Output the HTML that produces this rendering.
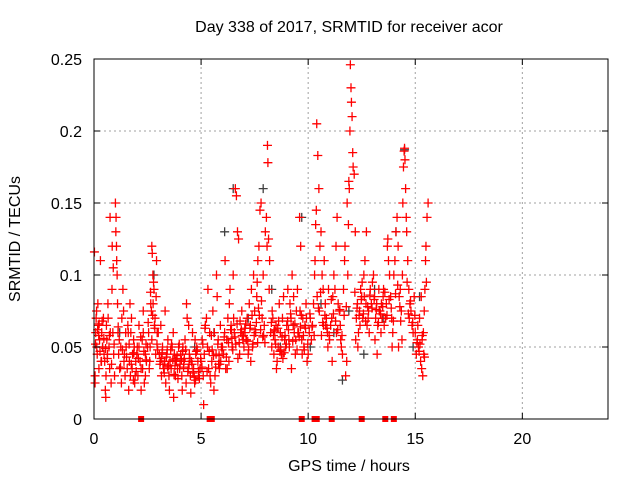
<!DOCTYPE html>
<html><head><meta charset="utf-8">
<style>
body{margin:0;background:#fff;}
svg{display:block;font-family:"Liberation Sans",sans-serif;}
</style></head>
<body>
<svg id="chart" width="640" height="480">
<rect width="640" height="480" fill="#fff"/>
<g id="grid"></g>
<g id="marks"></g>
<g id="axes"></g>
<text x="349" y="32" text-anchor="middle" font-size="16">Day 338 of 2017, SRMTID for receiver acor</text>
<text x="349" y="471" text-anchor="middle" font-size="16">GPS time / hours</text>
<text transform="translate(20,239) rotate(-90)" text-anchor="middle" font-size="16">SRMTID / TECUs</text>
</svg>
<script>
const xTicks=[0,5,10,15,20];
const yTicks=[0,0.05,0.1,0.15,0.2,0.25];
const yTickLabels=["0","0.05","0.1","0.15","0.2","0.25"];
const squareTimes=[2.2,5.4,5.5,9.7,10.3,10.4,11.1,12.5,13.6,14.0];
const redTimes=[
0.02,0.05,0.08,0.1,0.13,0.15,0.18,0.2,0.23,0.26,0.3,0.33,0.36,0.4,0.44,0.47,0.05,0.12,0.22,0.35,
0.5,0.53,0.56,0.6,0.63,0.66,0.7,0.73,0.76,0.8,0.84,0.88,0.92,0.96,0.55,0.65,0.75,0.85,0.9,0.58,
1.0,1.02,1.05,1.08,1.1,1.12,1.15,1.2,1.25,1.3,1.35,1.4,1.45,1.48,1.03,1.18,1.28,1.38,1.42,1.06,
1.5,1.55,1.6,1.65,1.7,1.75,1.8,1.85,1.9,1.95,1.58,1.68,1.78,1.88,1.62,1.72,1.82,1.92,
2.0,2.05,2.1,2.15,2.2,2.25,2.3,2.35,2.4,2.45,2.1,2.2,2.3,2.4,2.02,2.27,
2.5,2.55,2.6,2.65,2.7,2.72,2.75,2.8,2.85,2.9,2.95,2.62,2.68,2.78,2.82,2.88,2.92,2.58,2.7,2.76,
3.0,3.05,3.1,3.15,3.2,3.25,3.3,3.35,3.4,3.45,3.5,3.55,3.6,3.65,3.7,3.75,3.8,3.85,3.9,3.95,3.12,3.32,3.52,3.72,3.92,3.22,3.42,3.62,3.82,
4.0,4.05,4.1,4.15,4.2,4.25,4.3,4.35,4.4,4.45,4.5,4.55,4.6,4.65,4.7,4.75,4.8,4.85,4.9,4.95,4.12,4.32,4.52,4.72,4.92,4.22,4.42,4.62,4.82,4.02,
5.0,5.05,5.1,5.15,5.2,5.25,5.3,5.35,5.4,5.45,5.5,5.55,5.6,5.65,5.7,5.75,5.8,5.85,5.9,5.95,5.12,5.32,5.52,5.72,5.92,5.42,5.62,5.82,
6.0,6.05,6.1,6.15,6.2,6.25,6.3,6.35,6.4,6.45,6.5,6.55,6.6,6.65,6.7,6.75,6.8,6.85,6.9,6.95,6.12,6.32,6.52,6.72,6.92,6.22,6.42,6.62,6.82,
7.0,7.05,7.1,7.15,7.2,7.25,7.3,7.35,7.4,7.45,7.5,7.55,7.6,7.65,7.7,7.75,7.8,7.85,7.9,7.95,7.12,7.32,7.52,7.72,7.92,7.22,7.42,7.62,7.82,
8.0,8.05,8.1,8.12,8.15,8.2,8.25,8.3,8.35,8.4,8.45,8.5,8.55,8.6,8.65,8.7,8.75,8.8,8.85,8.9,8.95,8.08,8.18,8.32,8.52,8.72,8.92,8.42,8.62,8.82,
9.0,9.05,9.1,9.15,9.2,9.25,9.3,9.35,9.4,9.45,9.5,9.55,9.6,9.65,9.7,9.75,9.8,9.85,9.9,9.95,9.12,9.32,9.52,9.72,9.92,9.22,9.42,9.62,9.82,
10.0,10.05,10.1,10.15,10.2,10.25,10.3,10.35,10.4,10.45,10.5,10.55,10.6,10.65,10.7,10.75,10.8,10.85,10.9,10.95,10.32,10.38,10.42,10.52,10.72,10.92,10.62,10.82,
11.0,11.05,11.1,11.15,11.2,11.25,11.3,11.35,11.4,11.45,11.5,11.55,11.6,11.65,11.7,11.75,11.8,11.85,11.88,11.9,11.92,11.95,11.97,12.0,12.02,12.05,12.08,11.12,11.32,11.52,11.72,11.82,
12.1,12.15,12.2,12.25,12.3,12.35,12.4,12.45,12.5,12.55,12.6,12.65,12.7,12.75,12.8,12.85,12.9,12.95,12.22,12.42,12.62,12.82,12.32,12.52,12.72,
13.0,13.05,13.1,13.15,13.2,13.25,13.3,13.35,13.4,13.45,13.5,13.55,13.6,13.65,13.7,13.75,13.8,13.85,13.9,13.95,13.12,13.32,13.52,13.72,13.92,13.22,13.42,13.62,
14.0,14.05,14.1,14.15,14.2,14.25,14.3,14.35,14.4,14.42,14.45,14.48,14.5,14.52,14.55,14.6,14.65,14.7,14.75,14.8,14.85,14.9,14.95,14.32,14.38,14.62,14.72,14.22,14.58,
15.0,15.05,15.1,15.15,15.2,15.25,15.3,15.35,15.4,15.45,15.5,15.55,15.6,15.12,15.22,15.32,15.42,15.52,15.28,15.38,15.48];
const redValues=[
0.116,0.03,0.06,0.07,0.05,0.045,0.08,0.065,0.035,0.055,0.11,0.04,0.06,0.05,0.07,0.045,0.025,0.075,0.058,0.04,
0.04,0.02,0.03,0.055,0.045,0.07,0.05,0.035,0.06,0.025,0.09,0.06,0.045,0.03,0.015,0.08,0.14,0.12,0.105,0.065,
0.15,0.13,0.12,0.1,0.08,0.06,0.045,0.035,0.05,0.07,0.09,0.04,0.03,0.06,0.14,0.055,0.025,0.075,0.045,0.11,
0.05,0.035,0.06,0.04,0.03,0.07,0.045,0.055,0.025,0.04,0.065,0.08,0.035,0.05,0.02,0.06,0.045,0.03,
0.045,0.03,0.05,0.04,0.035,0.055,0.06,0.025,0.045,0.04,0.065,0.02,0.075,0.03,0.05,0.035,
0.05,0.06,0.04,0.08,0.12,0.115,0.1,0.09,0.07,0.085,0.06,0.05,0.075,0.095,0.065,0.045,0.11,0.035,0.055,0.08,
0.06,0.045,0.04,0.03,0.05,0.035,0.04,0.025,0.045,0.055,0.03,0.04,0.035,0.05,0.06,0.045,0.03,0.04,0.035,0.05,0.065,0.075,0.02,0.015,0.028,0.038,0.048,0.052,0.042,
0.035,0.045,0.03,0.05,0.04,0.055,0.025,0.07,0.035,0.045,0.03,0.04,0.06,0.035,0.025,0.045,0.05,0.04,0.03,0.035,0.02,0.08,0.018,0.055,0.028,0.042,0.065,0.032,0.048,0.038,
0.04,0.055,0.03,0.045,0.065,0.07,0.05,0.035,0.06,0.025,0.04,0.075,0.02,0.03,0.045,0.085,0.055,0.035,0.065,0.05,0.01,0.09,0.048,0.1,0.04,0.03,0.06,0.038,
0.05,0.045,0.06,0.035,0.055,0.07,0.04,0.09,0.065,0.05,0.1,0.06,0.16,0.155,0.13,0.125,0.045,0.06,0.075,0.055,0.11,0.08,0.07,0.042,0.058,0.035,0.062,0.052,0.068,
0.05,0.06,0.055,0.07,0.045,0.08,0.065,0.09,0.05,0.1,0.075,0.06,0.085,0.11,0.12,0.145,0.15,0.07,0.1,0.065,0.055,0.04,0.062,0.072,0.058,0.048,0.052,0.095,0.082,
0.13,0.14,0.19,0.178,0.125,0.11,0.06,0.05,0.07,0.045,0.055,0.065,0.04,0.05,0.08,0.06,0.045,0.07,0.085,0.055,0.05,0.12,0.09,0.075,0.035,0.048,0.058,0.062,0.068,0.042,
0.065,0.09,0.055,0.08,0.07,0.1,0.065,0.06,0.045,0.075,0.09,0.06,0.14,0.12,0.055,0.07,0.05,0.065,0.08,0.04,0.05,0.085,0.06,0.045,0.07,0.035,0.055,0.075,0.048,
0.045,0.06,0.07,0.055,0.065,0.08,0.1,0.135,0.205,0.183,0.16,0.12,0.13,0.1,0.09,0.11,0.08,0.07,0.06,0.09,0.11,0.145,0.085,0.075,0.065,0.05,0.058,0.065,
0.055,0.065,0.07,0.085,0.1,0.09,0.12,0.14,0.08,0.075,0.065,0.05,0.045,0.09,0.11,0.03,0.04,0.1,0.135,0.165,0.16,0.2,0.246,0.23,0.22,0.21,0.185,0.04,0.06,0.055,0.12,0.15,
0.175,0.17,0.13,0.07,0.08,0.06,0.075,0.09,0.085,0.07,0.1,0.11,0.08,0.065,0.07,0.06,0.09,0.08,0.055,0.065,0.085,0.075,0.05,0.095,0.13,
0.095,0.1,0.085,0.07,0.08,0.065,0.09,0.075,0.06,0.07,0.085,0.065,0.07,0.08,0.12,0.11,0.1,0.085,0.07,0.06,0.055,0.075,0.09,0.125,0.05,0.045,0.08,0.07,
0.1,0.11,0.13,0.14,0.12,0.085,0.09,0.075,0.1,0.15,0.175,0.186,0.188,0.18,0.16,0.13,0.11,0.09,0.08,0.075,0.065,0.06,0.085,0.068,0.055,0.095,0.07,0.05,0.14,
0.06,0.045,0.055,0.05,0.07,0.04,0.035,0.03,0.045,0.09,0.12,0.14,0.15,0.065,0.052,0.055,0.075,0.095,0.085,0.06,0.11];
const redTimes2=[
0.07,0.17,0.28,0.38,0.46,0.62,0.72,0.82,0.94,1.13,1.33,1.52,1.64,1.74,1.86,1.97,2.07,2.18,2.33,2.43,
2.53,2.64,2.74,2.84,2.97,3.08,3.18,3.28,3.38,3.48,3.58,3.68,3.78,3.88,3.98,4.08,4.18,4.28,4.38,4.48,
4.58,4.68,4.78,4.88,4.98,5.08,5.18,5.28,5.38,5.48,5.58,5.68,5.78,5.88,5.98,6.08,6.18,6.28,6.38,6.48,
6.58,6.68,6.78,6.88,6.98,7.08,7.18,7.28,7.38,7.48,7.58,7.68,7.78,7.88,7.98,8.28,8.38,8.48,8.58,8.68,
8.78,8.88,8.98,9.08,9.18,9.28,9.38,9.48,9.58,9.68,9.78,9.88,9.98,10.08,10.18,10.28,10.48,10.58,10.68,10.78,
10.88,10.98,11.08,11.18,11.28,11.38,11.48,11.58,11.68,11.78,12.18,12.28,12.38,12.48,12.58,12.68,12.78,12.88,12.98,13.08,
13.18,13.28,13.38,13.48,13.58,13.68,13.78,13.88,13.98,14.08,14.18,14.28,14.68,14.78,14.88,14.98,15.08,15.18,15.33,15.43,
3.14,3.44,3.74,4.14,4.44,4.74,5.04,5.84,6.44,7.04,7.64,8.44,9.04,9.64,0.24,0.54,1.24,1.84,2.44,2.94];
const redValues2=[
0.052,0.062,0.047,0.068,0.056,0.042,0.058,0.038,0.052,0.064,0.048,0.043,0.052,0.038,0.046,0.033,0.042,0.057,0.047,0.052,
0.067,0.088,0.072,0.063,0.048,0.038,0.046,0.032,0.043,0.037,0.048,0.041,0.037,0.044,0.052,0.041,0.036,0.048,0.033,0.042,
0.038,0.029,0.047,0.033,0.042,0.052,0.063,0.033,0.047,0.058,0.044,0.036,0.052,0.038,0.048,0.057,0.043,0.053,0.062,0.048,
0.057,0.066,0.053,0.062,0.058,0.066,0.054,0.063,0.072,0.058,0.067,0.077,0.062,0.057,0.053,0.067,0.058,0.052,0.063,0.047,
0.057,0.046,0.052,0.062,0.073,0.054,0.066,0.048,0.057,0.072,0.058,0.063,0.052,0.073,0.064,0.058,0.077,0.088,0.067,0.072,
0.063,0.058,0.083,0.073,0.068,0.062,0.076,0.058,0.072,0.078,0.088,0.077,0.072,0.083,0.073,0.068,0.078,0.086,0.077,0.083,
0.076,0.067,0.073,0.078,0.088,0.072,0.083,0.077,0.068,0.087,0.093,0.078,0.073,0.082,0.067,0.072,0.053,0.047,0.058,0.043,
0.042,0.036,0.031,0.047,0.038,0.027,0.036,0.044,0.056,0.063,0.053,0.061,0.068,0.064,0.066,0.049,0.036,0.027,0.041,0.052];
const blackTimes=[0.4,1.2,2.8,3.8,4.7,5.6,6.1,6.5,7.2,7.9,8.3,8.7,9.3,9.7,10.1,10.6,11.2,11.6,11.9,12.6,13.1,13.5,14.1,14.5,14.9,15.2];
const blackValues=[0.05,0.06,0.1,0.04,0.05,0.06,0.13,0.16,0.07,0.16,0.09,0.05,0.065,0.14,0.05,0.08,0.06,0.027,0.075,0.045,0.09,0.07,0.13,0.187,0.05,0.085];

const X0=94,X1=608,Y0=419,Y1=59;
const xs=t=>X0+(t/24)*(X1-X0);
const ys=v=>Y0-(v/0.25)*(Y0-Y1);
const NS="http://www.w3.org/2000/svg";
function mk(tag,attrs,parent){const e=document.createElementNS(NS,tag);for(const k in attrs)e.setAttribute(k,attrs[k]);parent.appendChild(e);return e;}
const grid=document.getElementById('grid'),marks=document.getElementById('marks'),axes=document.getElementById('axes');
xTicks.forEach(t=>{
  if(t>0){const l=mk('line',{x1:xs(t),x2:xs(t),y1:Y0,y2:Y1,stroke:'#a0a0a0','stroke-dasharray':'2,3','stroke-width':1},grid);
  
  }
  mk('line',{x1:xs(t),x2:xs(t),y1:Y0,y2:Y0-6,stroke:'#000'},axes);
  mk('line',{x1:xs(t),x2:xs(t),y1:Y1,y2:Y1+6,stroke:'#000'},axes);
  const tx=mk('text',{x:xs(t),y:444,'text-anchor':'middle','font-size':16},axes);tx.textContent=t;
  
  
});
yTicks.forEach((v,i)=>{
  if(v>0&&v<0.25){const l=mk('line',{x1:X0,x2:X1,y1:ys(v),y2:ys(v),stroke:'#a0a0a0','stroke-dasharray':'2,3','stroke-width':1},grid);
  
  }
  mk('line',{x1:X0,x2:X0+6,y1:ys(v),y2:ys(v),stroke:'#000'},axes);
  mk('line',{x1:X1,x2:X1-6,y1:ys(v),y2:ys(v),stroke:'#000'},axes);
  const tx=mk('text',{x:82,y:ys(v)+6,'text-anchor':'end','font-size':16},axes);tx.textContent=yTickLabels[i];
  
  
});
const frame=mk('rect',{x:X0,y:Y1,width:X1-X0,height:Y0-Y1,fill:'none',stroke:'#000'},axes);


function plus(t,v,color,name){
  const x=xs(t),y=ys(v);
  const p=mk('path',{d:`M${x-4.5},${y}H${x+4.5}M${x},${y-4.5}V${y+4.5}`,stroke:color,'stroke-width':1.3,fill:'none'},marks);
  
  
}
blackTimes.forEach((t,i)=>plus(t,blackValues[i],'#404040','black-point'));
redTimes.forEach((t,i)=>plus(t,redValues[i],'#ff0000','red-point'));
redTimes2.forEach((t,i)=>plus(t,redValues2[i],'#ff0000','red-point'));
squareTimes.forEach(t=>{
  const r=mk('rect',{x:xs(t)-3,y:Y0-3,width:6,height:6,fill:'#ff0000'},marks);
  
  
});
</script>
</body></html>
